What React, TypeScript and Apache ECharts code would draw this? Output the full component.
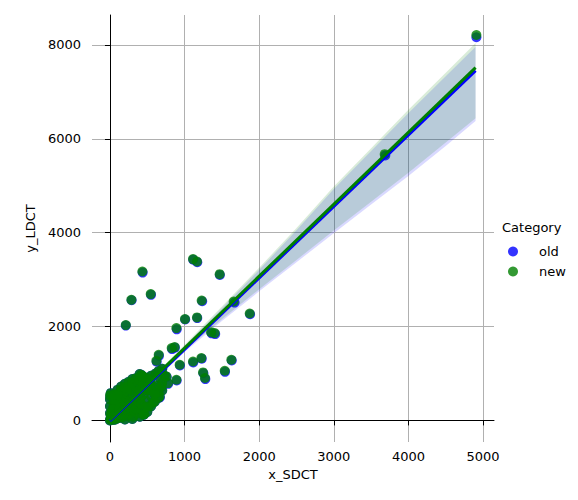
import React, { useEffect, useRef } from 'react';
import * as echarts from 'echarts';

const categories = ['old', 'new'];
const xTicks = [0, 1000, 2000, 3000, 4000, 5000];
const yTicks = [0, 2000, 4000, 6000, 8000];

// dense group near the origin, same in both categories
const clusterPoints = [
  [0, 0], [5, 20], [10, 60], [15, 110], [20, 150], [25, 40], [30, 200], [35, 90], [40, 260],
  [45, 10], [50, 130], [55, 320], [60, 60], [65, 180], [70, 380], [75, 20], [80, 240],
  [90, 100], [95, 300], [100, 430], [105, 170], [110, 50], [120, 350], [125, 230], [130, 580],
  [135, 120], [140, 470], [150, 290], [155, 60], [160, 400], [170, 200], [175, 520], [180, 130],
  [190, 330], [200, 620], [205, 250], [210, 90], [220, 450], [225, 380], [230, 180], [240, 560],
  [250, 300], [255, 700], [260, 140], [270, 420], [280, 240], [290, 650], [300, 360], [310, 80],
  [320, 520], [330, 200], [340, 760], [350, 440], [360, 300], [370, 600], [380, 150], [390, 850],
  [400, 380], [410, 480], [420, 970], [430, 240], [440, 700], [450, 560], [460, 130], [480, 420],
  [500, 640], [520, 300], [540, 820], [560, 500], [580, 380], [600, 700], [398, 988], [532, 867],
  [488, 654], [733, 952], [666, 903], [130, 600], [220, 640],
  [0, 150], [0, 300], [0, 450], [10, 580], [50, 450], [50, 550], [100, 550], [100, 650],
  [150, 650], [150, 720], [200, 700], [200, 780], [250, 720], [250, 820], [300, 800], [300, 880],
  [350, 900], [350, 700], [400, 850], [400, 650], [450, 800], [450, 930], [500, 750], [500, 900],
  [550, 650], [550, 950], [600, 550], [610, 1000], [650, 600], [650, 1050], [700, 800], [700, 1100],
  [200, 20], [300, 30], [400, 80], [450, 120], [500, 180], [550, 300], [600, 400], [650, 480],
  [700, 640], [350, 250], [420, 350], [480, 280],
];

const oldOutliers = [
  [4911, 8164], [3690, 5645], [1116, 3425], [1170, 3372], [438, 3150], [1473, 3100], [290, 2560],
  [550, 2676], [1236, 2540], [1670, 2510], [1878, 2262], [1008, 2150], [1170, 2180], [895, 1940],
  [1362, 1855], [1410, 1840], [832, 1520], [870, 1550], [657, 1380], [626, 1250], [938, 1170],
  [1116, 1235], [1230, 1315], [1632, 1278], [1542, 1035], [1252, 1005], [1278, 880], [438, 935],
  [894, 850], [692, 710], [780, 780], [760, 925], [670, 492], [602, 565], [4, 515], [212, 2020],
  [622, 724],
];

const newOutliers = [
  [4911, 8213], [3682, 5673], [1113, 3437], [1166, 3386], [434, 3173], [1470, 3117], [287, 2570],
  [546, 2692], [1229, 2556], [1658, 2534], [1873, 2279], [1005, 2159], [1166, 2194], [890, 1968],
  [1355, 1880], [1403, 1861], [827, 1542], [867, 1563], [653, 1399], [622, 1271], [934, 1186],
  [1113, 1256], [1225, 1329], [1627, 1293], [1538, 1058], [1247, 1022], [1273, 903], [434, 952],
  [890, 867], [689, 724], [777, 796], [756, 937], [666, 511], [599, 583], [0, 532], [212, 2032],
  [622, 740],
];

const fitX = [0, 4900];
const oldFitY = [-10, 7453];
const newFitY = [10, 7517];

const bandX = [0, 500, 1000, 1500, 2000, 2500, 3000, 3500, 4000, 4500, 4900];
const oldBandUpper = [30, 795, 1580, 2390, 3210, 4050, 4930, 5740, 6550, 7335, 7965];
const oldBandLower = [-50, 710, 1460, 2120, 2750, 3370, 3990, 4600, 5210, 5850, 6380];
const newBandUpper = [50, 821, 1612, 2428, 3254, 4100, 4986, 5802, 6618, 7409, 8040];
const newBandLower = [-30, 736, 1492, 2158, 2794, 3420, 4046, 4662, 5278, 5924, 6440];

const FONT = 'DejaVu Sans';

function bandSeries(name: string, upper: number[], lower: number[], fill: string) {
  return {
    type: 'custom',
    name,
    silent: true,
    data: [[bandX[0], lower[0]]],
    renderItem: (_params: any, api: any) => {
      const pts: number[][] = [];
      bandX.forEach((x, i) => pts.push(api.coord([x, upper[i]])));
      for (let i = bandX.length - 1; i >= 0; i--) pts.push(api.coord([bandX[i], lower[i]]));
      return { type: 'polygon', shape: { points: pts }, style: { fill } };
    },
  };
}

function lineSeries(name: string, ys: number[], color: string) {
  return {
    type: 'line',
    name,
    silent: true,
    showSymbol: false,
    data: fitX.map((x, i) => [x, ys[i]]),
    lineStyle: { color, width: 3 },
  };
}

const App: React.FC = () => {
  const chartRef = useRef<HTMLDivElement>(null);

  useEffect(() => {
    if (!chartRef.current) return;
    const myChart = echarts.init(chartRef.current, null, { renderer: 'svg' });

    const axisCommon = {
      axisLine: { show: true, lineStyle: { color: '#000', width: 1 } },
      axisTick: { show: true, length: 5, lineStyle: { color: '#000', width: 1 } },
      splitLine: { show: true, lineStyle: { color: '#b0b0b0', width: 1 } },
      nameTextStyle: { fontFamily: FONT, fontSize: 13, color: '#000' },
    };
    const label = { fontFamily: FONT, fontSize: 13, color: '#000', formatter: (v: number) => String(v) };

    const option = {
      animation: false,
      textStyle: { fontFamily: FONT },
      grid: { left: 92, right: 84, top: 15, bottom: 58, containLabel: false },
      xAxis: {
        type: 'value',
        min: -241,
        max: 5147,
        name: 'x_SDCT',
        nameLocation: 'middle',
        nameGap: 26,
        ...axisCommon,
        axisTick: { ...axisCommon.axisTick, customValues: xTicks },
        axisLabel: { ...label, customValues: xTicks, margin: 8 },
      },
      yAxis: {
        type: 'value',
        min: -460,
        max: 8639,
        name: 'y_LDCT',
        nameLocation: 'middle',
        nameGap: 40,
        ...axisCommon,
        axisTick: { ...axisCommon.axisTick, customValues: yTicks },
        axisLabel: { ...label, customValues: yTicks, margin: 11 },
      },
      legend: {
        data: categories,
        orient: 'vertical',
        left: 508,
        top: 245,
        padding: 0,
        itemWidth: 10,
        itemHeight: 10,
        itemGap: 7,
        icon: 'circle',
        textStyle: { fontFamily: FONT, fontSize: 13, color: '#000', lineHeight: 10, padding: [0, 0, 0, 16] },
      },
      graphic: [
        {
          type: 'text',
          left: 502,
          top: 221,
          style: { text: 'Category', font: `13px "${FONT}"`, fill: '#000' },
        },
      ],
      series: [
        {
          type: 'scatter',
          name: categories[0],
          symbolSize: 10,
          data: [...clusterPoints, ...oldOutliers],
          itemStyle: { color: 'blue', opacity: 0.8 },
        },
        bandSeries('old band', oldBandUpper, oldBandLower, 'rgba(0,0,255,0.15)'),
        lineSeries('old fit', oldFitY, 'blue'),
        {
          type: 'scatter',
          name: categories[1],
          symbolSize: 10,
          data: [...clusterPoints, ...newOutliers],
          itemStyle: { color: 'green', opacity: 0.8 },
        },
        bandSeries('new band', newBandUpper, newBandLower, 'rgba(0,128,0,0.15)'),
        lineSeries('new fit', newFitY, 'green'),
      ],
    };

    myChart.setOption(option);
    return () => {
      myChart.dispose();
    };
  }, []);

  return (
    <div
      ref={chartRef}
      style={{ position: 'fixed', left: 0, top: 0, width: '578px', height: '500px', background: '#fff' }}
    />
  );
};

export default App;
